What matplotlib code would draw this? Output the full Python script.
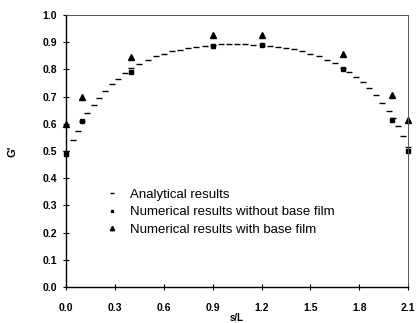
import numpy as np
import matplotlib.pyplot as plt

plt.rcParams['font.family'] = ['Liberation Sans', 'DejaVu Sans']

# analytical curve
s_an = [0.00, 0.04, 0.07, 0.10, 0.13, 0.17, 0.20, 0.24, 0.28, 0.32, 0.36, 0.40,
        0.45, 0.50, 0.55, 0.60, 0.65, 0.70, 0.75, 0.80, 0.85, 0.90, 0.95, 1.00,
        1.05, 1.10, 1.15, 1.20, 1.25, 1.30, 1.35, 1.40, 1.45, 1.50, 1.55, 1.60,
        1.65, 1.70, 1.74, 1.78, 1.82, 1.86, 1.90, 1.94, 1.98, 2.01, 2.04, 2.07, 2.10]
g_an = [0.500, 0.540, 0.575, 0.610, 0.640, 0.670, 0.695, 0.720, 0.745, 0.765, 0.785, 0.805,
        0.820, 0.835, 0.848, 0.858, 0.866, 0.872, 0.878, 0.883, 0.887, 0.890, 0.892, 0.893,
        0.893, 0.892, 0.890, 0.888, 0.886, 0.883, 0.879, 0.873, 0.866, 0.858, 0.848, 0.836,
        0.822, 0.806, 0.790, 0.772, 0.752, 0.730, 0.705, 0.678, 0.648, 0.620, 0.590, 0.555, 0.515]

s_num = [0.0, 0.1, 0.4, 0.9, 1.2, 1.7, 2.0, 2.1]
g_no_film = [0.49, 0.61, 0.79, 0.885, 0.89, 0.80, 0.615, 0.50]
g_film = [0.60, 0.70, 0.845, 0.925, 0.925, 0.855, 0.705, 0.615]

fig = plt.figure(figsize=(4.16, 3.23), dpi=100)
ax = fig.add_axes([0.159, 0.111, 0.822, 0.843])

ax.plot(s_an, g_an, ls='none', marker='_', ms=5, mew=1.0, color='black',
        label='Analytical results', clip_on=False)
ax.plot(s_num, g_no_film, ls='none', marker='s', ms=3, color='black',
        label='Numerical results without base film', clip_on=False)
ax.plot(s_num, g_film, ls='none', marker='^', ms=4.5, color='black',
        label='Numerical results with base film', clip_on=False)

ax.set_xlim(0, 2.1)
ax.set_ylim(0, 1.0)
ax.set_xticks(np.arange(0, 2.11, 0.3))
ax.set_yticks(np.arange(0, 1.01, 0.1))
ax.set_xticklabels(['%.1f' % v for v in np.arange(0, 2.11, 0.3)], fontweight='bold')
ax.set_yticklabels(['%.1f' % v for v in np.arange(0, 1.01, 0.1)], fontweight='bold')
ax.tick_params(direction='inout', length=5, width=0.8, labelsize=7.5, pad=4)
ax.tick_params(axis='x', pad=9)

for side in ['top', 'right']:
    ax.spines[side].set_color('#555555')
    ax.spines[side].set_linewidth(0.7)
for side in ['left', 'bottom']:
    ax.spines[side].set_linewidth(1.0)

ax.set_xlabel('s/L', fontsize=7, fontweight='bold', labelpad=0)
ax.set_ylabel("G'", fontsize=8, fontweight='bold', labelpad=18)

ax.legend(loc='upper left', bbox_to_anchor=(0.075, 0.405), frameon=False,
          fontsize=9.5, handletextpad=0.7, labelspacing=0.4, handlelength=1.3,
          markerscale=0.7)

fig.savefig('out.png', dpi=100)
